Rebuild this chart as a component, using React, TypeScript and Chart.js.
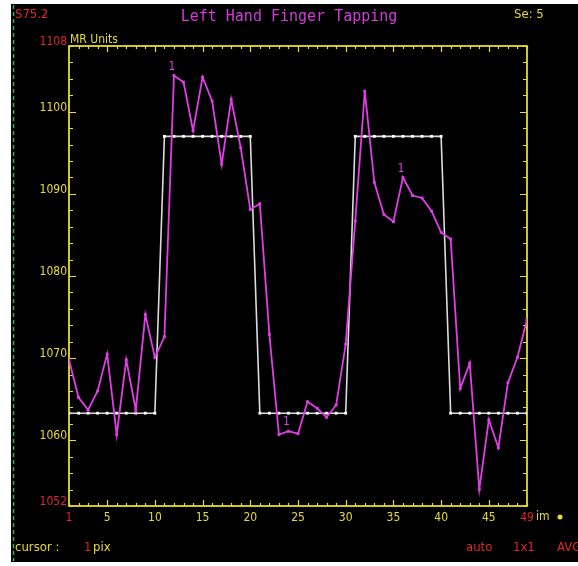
import React, { useEffect, useRef } from 'react';
import { Chart, registerables } from 'chart.js';

Chart.register(...registerables);

// ---- data ----
const frames = [
  1, 2, 3, 4, 5, 6, 7, 8, 9, 10, 11, 12, 13, 14, 15, 16, 17, 18, 19, 20, 21, 22, 23, 24, 25,
  26, 27, 28, 29, 30, 31, 32, 33, 34, 35, 36, 37, 38, 39, 40, 41, 42, 43, 44, 45, 46, 47, 48, 49,
];

const mrSignal = [
  1069.8, 1065.2, 1063.7, 1066.0, 1070.5, 1060.7, 1069.8, 1063.7, 1075.3, 1070.1,
  1072.6, 1104.4, 1103.6, 1097.7, 1104.2, 1101.3, 1093.6, 1101.5, 1095.6, 1088.1,
  1088.8, 1072.9, 1060.7, 1061.1, 1060.8, 1064.7, 1063.9, 1062.8, 1064.3, 1071.7,
  1086.7, 1102.5, 1091.4, 1087.5, 1086.6, 1092.0, 1089.8, 1089.5, 1087.9, 1085.3,
  1084.5, 1066.3, 1069.4, 1054.0, 1062.5, 1059.1, 1067.0, 1070.1, 1074.7,
];

const paradigm = [
  1063.3, 1063.3, 1063.3, 1063.3, 1063.3, 1063.3, 1063.3, 1063.3, 1063.3, 1063.3,
  1097.0, 1097.0, 1097.0, 1097.0, 1097.0, 1097.0, 1097.0, 1097.0, 1097.0, 1097.0,
  1063.3, 1063.3, 1063.3, 1063.3, 1063.3, 1063.3, 1063.3, 1063.3, 1063.3, 1063.3,
  1097.0, 1097.0, 1097.0, 1097.0, 1097.0, 1097.0, 1097.0, 1097.0, 1097.0, 1097.0,
  1063.3, 1063.3, 1063.3, 1063.3, 1063.3, 1063.3, 1063.3, 1063.3, 1063.3,
];

const xTickValues = [1, 5, 10, 15, 20, 25, 30, 35, 40, 45, 49];
const yTickValues = [1052, 1060, 1070, 1080, 1090, 1100, 1108];
const xEndTicks = [1, 49];
const yEndTicks = [1052, 1108];
const markerFrames = [12, 24, 36];

const TITLE = 'Left Hand Finger Tapping';

// ---- styles ----
const YELLOW = '#e6dc32';
const RED = '#e0262a';
const MAGENTA = '#e03ee6';
const TITLE_MAGENTA = '#d23cd8';
const WHITE = '#dcdcdc';
const GREEN = '#36b042';
const FONT = '"DejaVu Sans Condensed", "Liberation Sans Narrow", "DejaVu Sans", sans-serif';
const MONO = '"DejaVu Sans Mono", "Liberation Mono", monospace';

const decor = {
  id: 'decor',
  beforeDraw(chart: any) {
    const { ctx, width, height } = chart;
    ctx.save();
    ctx.fillStyle = '#ffffff';
    ctx.fillRect(0, 0, width, height);
    ctx.fillStyle = '#000000';
    ctx.fillRect(11, 4, width - 11, 558);
    ctx.strokeStyle = GREEN;
    ctx.lineWidth = 1.5;
    ctx.setLineDash([4, 3]);
    ctx.beginPath();
    ctx.moveTo(13.5, 5);
    ctx.lineTo(13.5, 561);
    ctx.stroke();
    ctx.restore();
  },
  beforeDatasetsDraw(chart: any) {
    const { ctx, chartArea: a, scales } = chart;
    const xs = scales.x;
    const ys = scales.y;
    ctx.save();
    ctx.strokeStyle = YELLOW;
    ctx.lineWidth = 1.8;
    ctx.strokeRect(a.left, a.top, a.right - a.left, a.bottom - a.top);
    ctx.lineWidth = 1.2;
    ctx.beginPath();
    for (let v = 1; v <= 49; v++) {
      const x = Math.round(xs.getPixelForValue(v)) + 0.5;
      const len = v % 5 === 0 ? 6 : 3;
      ctx.moveTo(x, a.top);
      ctx.lineTo(x, a.top + len);
      ctx.moveTo(x, a.bottom);
      ctx.lineTo(x, a.bottom - len);
    }
    for (let v = 1052; v <= 1108; v += 2) {
      const y = Math.round(ys.getPixelForValue(v)) + 0.5;
      const len = v % 10 === 0 ? 7 : 4;
      ctx.moveTo(a.left, y);
      ctx.lineTo(a.left + len, y);
      ctx.moveTo(a.right, y);
      ctx.lineTo(a.right - len, y);
    }
    ctx.stroke();
    ctx.restore();
  },
  afterDraw(chart: any) {
    const { ctx, chartArea: a } = chart;
    ctx.save();
    ctx.textBaseline = 'middle';
    // title
    ctx.font = `15px ${MONO}`;
    ctx.fillStyle = TITLE_MAGENTA;
    ctx.textAlign = 'center';
    ctx.fillText(TITLE, 289, 17);
    // top corners
    ctx.textAlign = 'left';
    ctx.font = `13px ${FONT}`;
    ctx.fillStyle = RED;
    ctx.fillText('S75.2', 15, 15);
    ctx.fillStyle = YELLOW;
    ctx.fillText('Se: 5', 514, 15);
    // axis unit
    ctx.font = `12px ${FONT}`;
    ctx.fillStyle = YELLOW;
    ctx.fillText('MR Units', a.left + 1, a.top - 6);
    // x unit
    ctx.fillText('im', a.right + 9, a.bottom + 11);
    ctx.beginPath();
    ctx.arc(560, a.bottom + 11, 2.5, 0, Math.PI * 2);
    ctx.fill();
    // status bar
    ctx.font = `13px ${FONT}`;
    ctx.fillStyle = YELLOW;
    ctx.fillText('cursor :', 15, 548);
    ctx.fillStyle = RED;
    ctx.fillText('1', 84, 548);
    ctx.fillStyle = YELLOW;
    ctx.fillText('pix', 93, 548);
    ctx.fillStyle = RED;
    ctx.fillText('auto', 466, 548);
    ctx.fillText('1x1', 513, 548);
    ctx.fillText('AVG', 557, 548);
    // series markers
    const meta = chart.getDatasetMeta(0);
    ctx.font = `12px ${FONT}`;
    ctx.fillStyle = MAGENTA;
    ctx.textAlign = 'center';
    markerFrames.forEach((f) => {
      const el = meta.data[frames.indexOf(f)];
      if (el) ctx.fillText('1', el.x - 2, el.y - 9);
    });
    ctx.restore();
  },
};

export default function App() {
  const ref = useRef<HTMLCanvasElement | null>(null);

  useEffect(() => {
    if (!ref.current) return;
    const chart = new Chart(ref.current, {
      type: 'line',
      data: {
        datasets: [
          {
            label: 'MR signal',
            data: frames.map((f, i) => ({ x: f, y: mrSignal[i] })),
            borderColor: MAGENTA,
            backgroundColor: MAGENTA,
            borderWidth: 1.8,
            pointStyle: 'rect',
            pointRadius: 2,
            pointBorderWidth: 0,
            tension: 0,
          },
          {
            label: 'Paradigm',
            data: frames.map((f, i) => ({ x: f, y: paradigm[i] })),
            borderColor: WHITE,
            backgroundColor: '#ffffff',
            borderWidth: 1.6,
            pointStyle: 'rect',
            pointRadius: 2,
            pointBorderWidth: 0,
            tension: 0,
          },
        ],
      },
      options: {
        responsive: false,
        animation: false,
        layout: { padding: { left: 29, right: 51, top: 46, bottom: 36 } },
        plugins: {
          legend: { display: false },
          title: { display: false },
          tooltip: { enabled: false },
        },
        scales: {
          x: {
            type: 'linear',
            min: 1,
            max: 49,
            grid: { display: false, drawTicks: false },
            border: { display: false },
            afterBuildTicks: (scale: any) => {
              scale.ticks = xTickValues.map((v) => ({ value: v }));
            },
            afterFit: (scale: any) => {
              scale.height = 24;
            },
            ticks: {
              autoSkip: false,
              maxRotation: 0,
              padding: 5,
              font: { family: FONT, size: 12 },
              color: (c: any) => (xEndTicks.includes(c.tick?.value) ? RED : YELLOW),
              callback: (v: any) => String(v),
            },
          },
          y: {
            type: 'linear',
            min: 1052,
            max: 1108,
            grid: { display: false, drawTicks: false },
            border: { display: false },
            afterBuildTicks: (scale: any) => {
              scale.ticks = yTickValues.map((v) => ({ value: v }));
            },
            afterFit: (scale: any) => {
              scale.width = 40;
            },
            ticks: {
              autoSkip: false,
              padding: 2,
              labelOffset: -4,
              font: { family: FONT, size: 12 },
              color: (c: any) => (yEndTicks.includes(c.tick?.value) ? RED : YELLOW),
              callback: (v: any) => String(v),
            },
          },
        },
      },
      plugins: [decor],
    });
    return () => chart.destroy();
  }, []);

  return (
    <div style={{ position: 'absolute', left: 0, top: 0, width: 578, height: 566 }}>
      <canvas ref={ref} width={578} height={566} style={{ display: 'block' }} />
    </div>
  );
}
